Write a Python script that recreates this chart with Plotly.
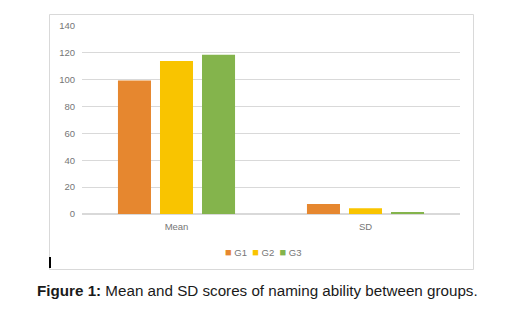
import plotly.graph_objects as go

categories = ["Mean", "SD"]
groups = ["G1", "G2", "G3"]
g1 = [99.5, 7.5]
g2 = [114, 4.3]
g3 = [118.6, 1.0]
colors = ["#E6872F", "#F9C400", "#84B44C"]
y_ticks = [0, 20, 40, 60, 80, 100, 120, 140]

# page body has an 8px margin; work in reference pixel coords and subtract it
OFF = 8
W, H = 524 - OFF, 310 - OFF
L, R, T, B = 82, 460, 26, 214

def px(x):
    return (x - L) / (R - L)

def py(y):
    return (B - y) / (B - T)

fig = go.Figure()
for name, vals, c in zip(groups, [g1, g2, g3], colors):
    fig.add_trace(go.Bar(x=categories, y=vals, name=name, showlegend=False,
                         marker=dict(color=c, line=dict(width=0))))

legend_text = "&nbsp;&nbsp;".join(
    f"<span style='color:{c};font-size:11px'>■</span> {g}" for g, c in zip(groups, colors)
)

fig.update_layout(
    width=W, height=H,
    margin=dict(l=L - OFF, r=524 - R, t=T - OFF, b=310 - B),
    paper_bgcolor="white", plot_bgcolor="white",
    barmode="group", bargap=0.333, bargroupgap=0.214,
    font=dict(family="Liberation Sans", size=9, color="#767676"),
    yaxis=dict(range=[0, 140], tickvals=y_ticks, showgrid=True, gridcolor="#D9D9D9",
               gridwidth=1, zeroline=True, zerolinecolor="#D9D9D9", showline=False,
               ticks="", ticklen=0, ticklabelstandoff=6,
               tickfont=dict(size=9.5, color="#767676")),
    xaxis=dict(showline=False, ticks="", ticklabelstandoff=5,
               tickfont=dict(size=9.5, color="#767676")),
    showlegend=False,
    shapes=[
        dict(type="rect", xref="paper", yref="paper", x0=px(49.5), x1=px(473.5),
             y0=py(269.5), y1=py(14.5), line=dict(color="#D9D9D9", width=1)),
        dict(type="line", xref="paper", yref="paper", x0=px(50), x1=px(50),
             y0=py(268), y1=py(257), line=dict(color="black", width=2)),
    ],
    annotations=[
        dict(text=legend_text, xref="paper", yref="paper", x=px(263), y=py(252),
             xanchor="center", yanchor="middle", showarrow=False,
             font=dict(family="Liberation Sans", size=9.5, color="#767676")),
        dict(text="<b>Figure 1:</b> Mean and SD scores of naming ability between groups.",
             xref="paper", yref="paper", x=px(257.5), y=py(290), xanchor="center",
             yanchor="middle", showarrow=False,
             font=dict(family="Liberation Sans", size=15.2, color="#1a1a1a")),
    ],
)

fig.write_html("out.html")
